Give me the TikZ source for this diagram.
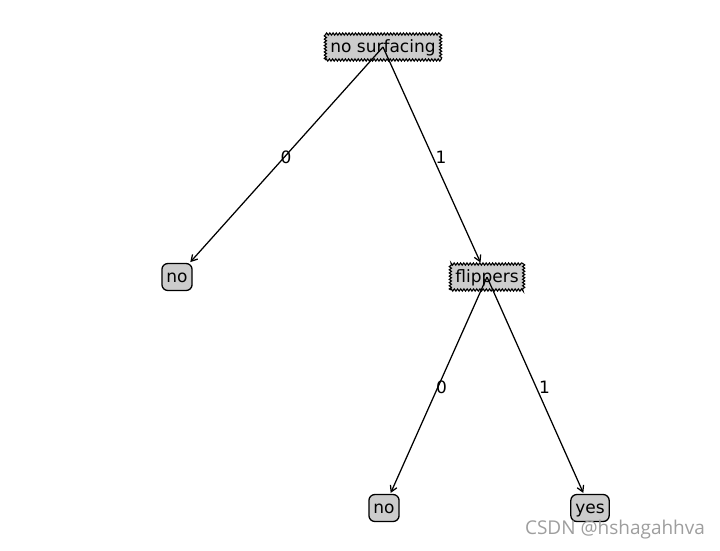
\documentclass[tikz,border=0pt]{standalone}
\usepackage{fontspec}
\setmainfont{DejaVu Sans}
\newfontfamily\markfont{Open Sans}
\usetikzlibrary{decorations.pathmorphing,arrows.meta,calc}
\begin{document}
\begin{tikzpicture}[x=1pt,y=-1pt,
  decision/.style={draw,fill=black!20,line width=1.1pt,decorate,decoration={zigzag,segment length=3.2pt,amplitude=1.1pt},inner xsep=5pt,text height=14pt,text depth=3pt,minimum height=26pt},
  leaf/.style={draw,fill=black!20,line width=1.3pt,rounded corners=6pt,inner xsep=4.5pt,text height=14pt,text depth=3pt,minimum height=27pt},
  edge/.style={line width=1.25pt,-{Straight Barb[length=6pt,width=7pt]},shorten >=1pt},
  font=\fontsize{17}{20}\selectfont]
\useasboundingbox (0,0) rectangle (720,550);
\node[decision] (ns) at (383,47) {no surfacing};
\node[leaf] (nl) at (177,277) {no};
\node[decision] (fl) at (487,277) {flippers};
\node[leaf] (fno) at (384,508) {no};
\node[leaf] (fyes) at (590,508) {yes};
\draw[edge] (ns.center) -- (nl);
\draw[edge] (ns.center) -- (fl);
\draw[edge] (fl.center) -- (fno);
\draw[edge] (fl.center) -- (fyes);
\node (l1) at ($($(ns)!0.5!(nl)$)+(6,-5)$) {0};
\node (l2) at ($($(ns)!0.5!(fl)$)+(6,-5)$) {1};
\node (l3) at ($($(fl)!0.5!(fno)$)+(6,-5)$) {0};
\node (l4) at ($($(fl)!0.5!(fyes)$)+(6,-5)$) {1};
\node[text=black!38,font=\markfont\fontsize{19}{22}\selectfont] (wm) at (615,530) {CSDN @hshagahhva};
\end{tikzpicture}
\end{document}
